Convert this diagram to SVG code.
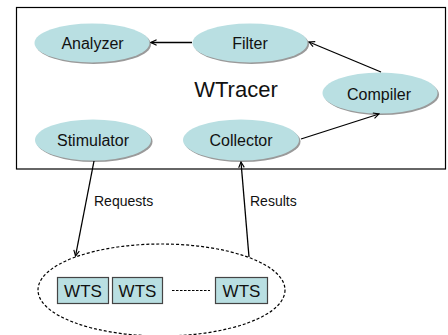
<svg xmlns="http://www.w3.org/2000/svg" width="448" height="335" viewBox="0 0 448 335">
<style>
.node ellipse.body{fill:#b9dfe2;stroke:none}
.node ellipse.shadow{fill:#9a9a9a;stroke:none}
.lbl{font-family:"Liberation Sans",Arial,sans-serif;fill:#111;text-anchor:middle}
.nl{font-size:16px}
.el{font-size:14px;text-anchor:start}
.box rect{fill:#b9dfe2;stroke:#444;stroke-width:1.2}
.conn line{stroke:#000;stroke-width:1.3;fill:none}
</style>
<defs>
<marker id="arr" viewBox="0 0 10 10" refX="9" refY="5" markerWidth="7" markerHeight="7" orient="auto" markerUnits="userSpaceOnUse">
<path d="M1,1 L9,5 L1,9" fill="none" stroke="#000" stroke-width="1.6"/>
</marker>
</defs>
<rect x="0" y="0" width="448" height="335" fill="#fff"/>
<g id="wtracer">
<rect x="16.5" y="7.5" width="429" height="161.5" fill="#fff" stroke="#000" stroke-width="1.2"/>
<text class="lbl" x="236" y="97" font-size="22">WTracer</text>
</g>
<g id="analyzer" class="node">
<ellipse class="shadow" cx="93.5" cy="44.5" rx="57.5" ry="19.5"/>
<ellipse class="body" cx="92" cy="43" rx="57.5" ry="19.5"/>
<text class="lbl nl" x="92.5" y="49">Analyzer</text>
</g>
<g id="filter" class="node">
<ellipse class="shadow" cx="251.5" cy="44.5" rx="57.5" ry="19.5"/>
<ellipse class="body" cx="250" cy="43" rx="57.5" ry="19.5"/>
<text class="lbl nl" x="250" y="49">Filter</text>
</g>
<g id="compiler" class="node">
<ellipse class="shadow" cx="381.5" cy="94.5" rx="57.5" ry="20.5"/>
<ellipse class="body" cx="380" cy="93" rx="57.5" ry="20.5"/>
<text class="lbl nl" x="379" y="100">Compiler</text>
</g>
<g id="stimulator" class="node">
<ellipse class="shadow" cx="94.5" cy="141.5" rx="58" ry="20.5"/>
<ellipse class="body" cx="93" cy="140" rx="58" ry="20.5"/>
<text class="lbl nl" x="93" y="146">Stimulator</text>
</g>
<g id="collector" class="node">
<ellipse class="shadow" cx="242.5" cy="141.5" rx="58" ry="20.5"/>
<ellipse class="body" cx="241" cy="140" rx="58" ry="20.5"/>
<text class="lbl nl" x="241" y="146">Collector</text>
</g>
<g id="wts-pool">
<ellipse cx="161.5" cy="290" rx="123.5" ry="46" fill="none" stroke="#000" stroke-width="1.2" stroke-dasharray="3,2"/>
</g>
<g id="wts1" class="box">
<rect x="57.5" y="277.5" width="51" height="26"/>
<text class="lbl" x="83" y="297" font-size="17">WTS</text>
</g>
<g id="wts2" class="box">
<rect x="112.5" y="277.5" width="50" height="26"/>
<text class="lbl" x="137.5" y="297" font-size="17">WTS</text>
</g>
<g id="wts3" class="box">
<rect x="215.5" y="277.5" width="52" height="26"/>
<text class="lbl" x="241.5" y="297" font-size="17">WTS</text>
</g>
<g id="connectors" class="conn">
<line x1="192" y1="42.5" x2="151" y2="42.5" marker-end="url(#arr)"/>
<line x1="381" y1="72" x2="309" y2="42" marker-end="url(#arr)"/>
<line x1="301" y1="139" x2="379" y2="114" marker-end="url(#arr)"/>
<line x1="94" y1="161" x2="75.5" y2="256" marker-end="url(#arr)"/>
<line x1="249" y1="257" x2="241" y2="162" marker-end="url(#arr)"/>
<line x1="172" y1="290.5" x2="210" y2="290.5" stroke-dasharray="2.5,1.5" style="stroke-width:1.2"/>
</g>
<text class="lbl el" x="94" y="206">Requests</text>
<text class="lbl el" x="250" y="206">Results</text>
</svg>
